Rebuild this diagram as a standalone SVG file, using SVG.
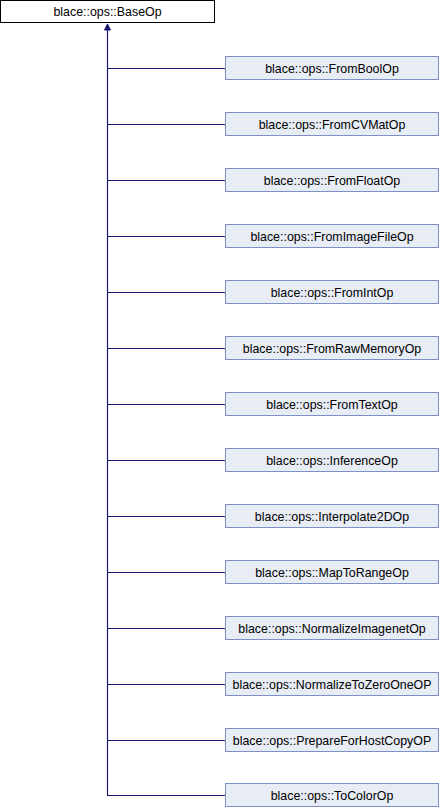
<svg xmlns="http://www.w3.org/2000/svg" width="440" height="808" viewBox="0 0 440 808">
<style>
text{font-family:"Liberation Sans",Arial,sans-serif;font-size:12.4px;fill:#000;text-anchor:middle}
.base{fill:#fff;stroke:#000;stroke-width:1}
.child{fill:#e8ecf5;stroke:#7f8fc8;stroke-width:1}
.edge{fill:none;stroke:#191970;stroke-width:1.2}
</style>
<g id="connectors">
<path class="edge" d="M107.5,796 V30"/>
<path d="M104.5,30 L107.5,24 L110.5,30 Z" fill="#191970" stroke="#191970" stroke-width="1"/>
<path class="edge" d="M107.5,68.5 H225.5 M107.5,124.5 H225.5 M107.5,180.5 H225.5 M107.5,236.5 H225.5 M107.5,292.5 H225.5 M107.5,348.5 H225.5 M107.5,404.5 H225.5 M107.5,460.5 H225.5 M107.5,516.5 H225.5 M107.5,572.5 H225.5 M107.5,628.5 H225.5 M107.5,684.5 H225.5 M107.5,740.5 H225.5 M107.5,795.5 H225.5"/>
</g>
<g id="BaseOp"><rect class="base" x="0.5" y="0.5" width="214" height="22"/><text x="107.5" y="16">blace::ops::BaseOp</text></g>
<g id="FromBoolOp"><rect class="child" x="225.5" y="56.5" width="213" height="23"/><text x="332" y="72.5">blace::ops::FromBoolOp</text></g>
<g id="FromCVMatOp"><rect class="child" x="225.5" y="112.5" width="213" height="23"/><text x="332" y="128.5">blace::ops::FromCVMatOp</text></g>
<g id="FromFloatOp"><rect class="child" x="225.5" y="168.5" width="213" height="23"/><text x="332" y="184.5">blace::ops::FromFloatOp</text></g>
<g id="FromImageFileOp"><rect class="child" x="225.5" y="224.5" width="213" height="23"/><text x="332" y="240.5">blace::ops::FromImageFileOp</text></g>
<g id="FromIntOp"><rect class="child" x="225.5" y="280.5" width="213" height="23"/><text x="332" y="296.5">blace::ops::FromIntOp</text></g>
<g id="FromRawMemoryOp"><rect class="child" x="225.5" y="336.5" width="213" height="23"/><text x="332" y="352.5">blace::ops::FromRawMemoryOp</text></g>
<g id="FromTextOp"><rect class="child" x="225.5" y="392.5" width="213" height="23"/><text x="332" y="408.5">blace::ops::FromTextOp</text></g>
<g id="InferenceOp"><rect class="child" x="225.5" y="448.5" width="213" height="23"/><text x="332" y="464.5">blace::ops::InferenceOp</text></g>
<g id="Interpolate2DOp"><rect class="child" x="225.5" y="504.5" width="213" height="23"/><text x="332" y="520.5">blace::ops::Interpolate2DOp</text></g>
<g id="MapToRangeOp"><rect class="child" x="225.5" y="560.5" width="213" height="23"/><text x="332" y="576.5">blace::ops::MapToRangeOp</text></g>
<g id="NormalizeImagenetOp"><rect class="child" x="225.5" y="616.5" width="213" height="23"/><text x="332" y="632.5">blace::ops::NormalizeImagenetOp</text></g>
<g id="NormalizeToZeroOneOP"><rect class="child" x="225.5" y="672.5" width="213" height="23"/><text x="332" y="688.5">blace::ops::NormalizeToZeroOneOP</text></g>
<g id="PrepareForHostCopyOP"><rect class="child" x="225.5" y="728.5" width="213" height="23"/><text x="332" y="744.5">blace::ops::PrepareForHostCopyOP</text></g>
<g id="ToColorOp"><rect class="child" x="225.5" y="783.5" width="213" height="23"/><text x="332" y="799.5">blace::ops::ToColorOp</text></g>
</svg>
